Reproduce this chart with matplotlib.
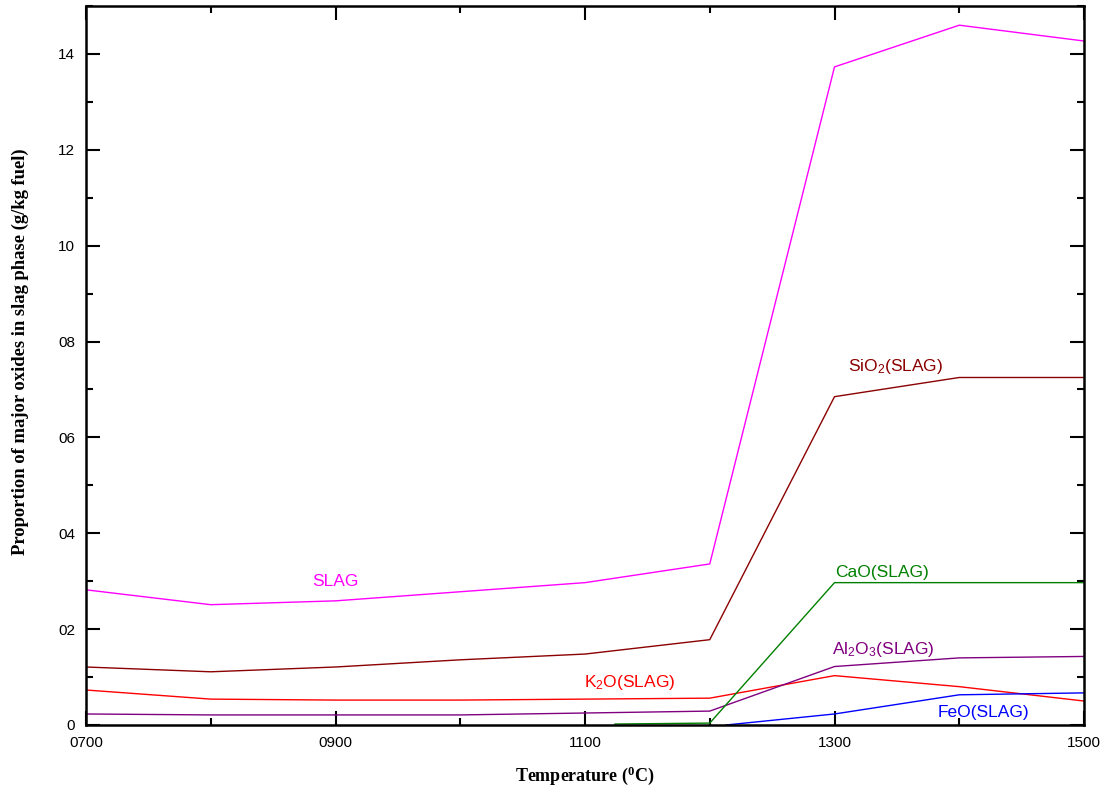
import matplotlib.pyplot as plt
from matplotlib.ticker import MultipleLocator, FuncFormatter

plt.rcParams['mathtext.fontset'] = 'custom'
plt.rcParams['mathtext.rm'] = 'Liberation Sans'
plt.rcParams['mathtext.it'] = 'Liberation Sans'

# Données
temp = [700, 800, 900, 1000, 1100, 1200, 1300, 1400, 1500]
slag = [2.82, 2.51, 2.59, 2.78, 2.97, 3.36, 13.73, 14.60, 14.27]
sio2 = [1.21, 1.11, 1.21, 1.36, 1.48, 1.78, 6.85, 7.25, 7.25]
k2o = [0.73, 0.54, 0.52, 0.52, 0.54, 0.56, 1.03, 0.80, 0.50]
al2o3 = [0.23, 0.21, 0.21, 0.21, 0.25, 0.29, 1.22, 1.40, 1.43]
temp_cao = [1124, 1200, 1300, 1400, 1500]
cao = [0.02, 0.04, 2.97, 2.97, 2.97]
temp_feo = [1213, 1300, 1400, 1500]
feo = [0.0, 0.23, 0.63, 0.67]
xticks_major = [700, 900, 1100, 1300, 1500]
xticks_minor = [800, 1000, 1200, 1400]

fig = plt.figure(figsize=(11.04, 7.92), dpi=100)
ax = fig.add_axes([0.0779, 0.0846, 0.904, 0.9078])

ax.plot(temp, slag, color='#ff00ff', lw=1)
ax.plot(temp, sio2, color='#8b0000', lw=1)
ax.plot(temp, k2o, color='#ff0000', lw=1)
ax.plot(temp, al2o3, color='#800080', lw=1)
ax.plot(temp_cao, cao, color='#008000', lw=1)
ax.plot(temp_feo, feo, color='#0000ff', lw=1)

lab = dict(fontsize=12.5, family='Liberation Sans', ha='center', va='center')
ax.text(900, 2.99, 'SLAG', color='#ff00ff', **lab)
ax.text(1349, 7.48, 'SiO$_2$(SLAG)', color='#8b0000', **lab)
ax.text(1338, 3.18, 'CaO(SLAG)', color='#008000', **lab)
ax.text(1339, 1.57, 'Al$_2$O$_3$(SLAG)', color='#800080', **lab)
ax.text(1136, 0.88, 'K$_2$O(SLAG)', color='#ff0000', **lab)
ax.text(1419, 0.27, 'FeO(SLAG)', color='#0000ff', **lab)

ax.set_xlim(700, 1500)
ax.set_ylim(0, 15)
ax.set_xticks(xticks_major)
ax.set_xticks(xticks_minor, minor=True)
ax.yaxis.set_major_locator(MultipleLocator(2))
ax.yaxis.set_minor_locator(MultipleLocator(1))
ax.xaxis.set_major_formatter(FuncFormatter(lambda v, p: '%04d' % v))
ax.yaxis.set_major_formatter(FuncFormatter(lambda v, p: '0' if v == 0 else '%02d' % v))
ax.tick_params(which='both', direction='in', top=True, right=True, width=1.5,
               labelsize=11, labelfontfamily='Liberation Sans')
ax.tick_params(which='major', length=10, pad=8)
ax.tick_params(which='minor', length=5)
for s in ax.spines.values():
    s.set_linewidth(1.8)

ax.set_xlabel(r'Temperature ($\mathregular{^0}$C)', fontsize=13, family='Liberation Serif',
              fontweight='bold', labelpad=10)
ax.set_ylabel('Proportion of major oxides in slag phase (g/kg fuel)', fontsize=13.4,
              family='Liberation Serif', fontweight='bold')
ax.yaxis.set_label_coords(-0.057, 0.519)

fig.savefig('out.png', dpi=100)
